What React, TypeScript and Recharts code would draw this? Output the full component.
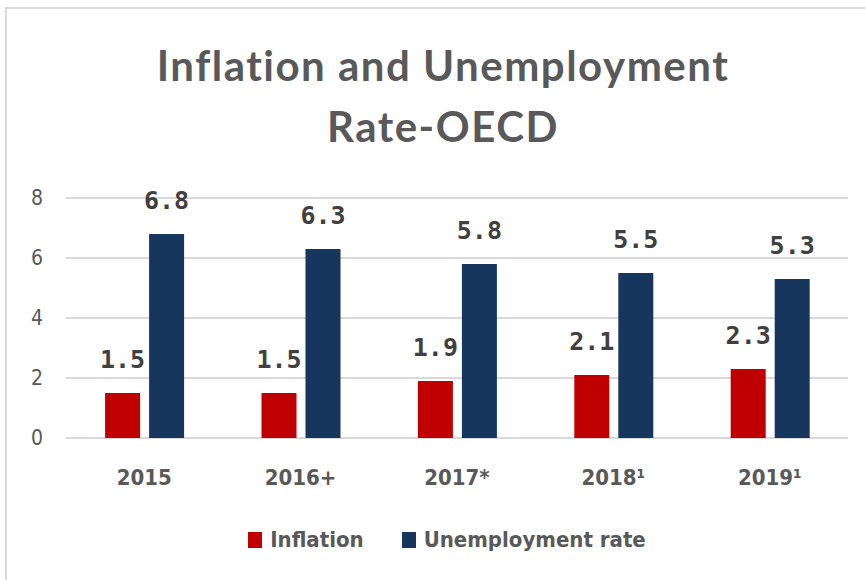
import React from 'react'
import { BarChart, Bar, XAxis, YAxis, CartesianGrid, LabelList } from 'recharts'

const years = ['2015', '2016+', '2017*', '2018¹', '2019¹']
const inflation = [1.5, 1.5, 1.9, 2.1, 2.3]
const unemployment = [6.8, 6.3, 5.8, 5.5, 5.3]
const yTicks = [0, 2, 4, 6, 8]

const seriesNames = ['Inflation', 'Unemployment rate']
const seriesColors = ['#C00000', '#17365D']

const data = years.map((year, i) => ({
  year,
  inflation: inflation[i],
  unemployment: unemployment[i]
}))

const axisFont = '"Liberation Sans Narrow", "DejaVu Sans Condensed", "Roboto", sans-serif'
const titleFont = '"Lato", "Noto Sans", sans-serif'
const labelFont = '"DejaVu Sans Mono", "Liberation Mono", monospace'

const labelStyle = { fill: '#404040', fontSize: 25, fontWeight: 700, fontFamily: labelFont }

const App = () => {
  return (
    <div
      style={{
        position: 'absolute',
        left: 0,
        top: 0,
        width: 865,
        height: 580,
        background: '#fff'
      }}
    >
      <div
        style={{
          position: 'absolute',
          left: 5,
          top: 7,
          width: 870,
          height: 580,
          border: '2px solid #d9d9d9',
          boxSizing: 'border-box'
        }}
      />
      <div
        style={{
          position: 'absolute',
          left: 0,
          top: 35,
          width: 886,
          textAlign: 'center',
          fontFamily: titleFont,
          fontWeight: 700,
          fontSize: 42,
          lineHeight: '61px',
          color: '#595959',
          letterSpacing: 1.5
        }}
      >
        Inflation and Unemployment
        <br />
        Rate-OECD
      </div>
      <div style={{ position: 'absolute', left: 0, top: 0 }}>
        <BarChart
          width={865}
          height={580}
          data={data}
          margin={{ top: 198, right: 17, bottom: 112, left: 0 }}
          barCategoryGap="25%"
          barGap={9}
        >
          <CartesianGrid vertical={false} stroke="#d9d9d9" strokeWidth={2} />
          <XAxis
            dataKey="year"
            axisLine={false}
            tickLine={false}
            height={30}
            tickMargin={25}
            tick={{ fill: '#595959', fontSize: 22, fontWeight: 700, fontFamily: axisFont }}
          />
          <YAxis
            domain={[0, 8]}
            ticks={yTicks}
            width={66}
            axisLine={false}
            tickLine={false}
            tickMargin={17}
            tick={{ fill: '#595959', fontSize: 21, fontFamily: axisFont }}
          />
          <Bar dataKey="inflation" fill={seriesColors[0]} isAnimationActive={false}>
            <LabelList dataKey="inflation" position="top" offset={25} style={labelStyle} />
          </Bar>
          <Bar dataKey="unemployment" fill={seriesColors[1]} isAnimationActive={false}>
            <LabelList dataKey="unemployment" position="top" offset={25} style={labelStyle} />
          </Bar>
        </BarChart>
      </div>
      <div
        style={{
          position: 'absolute',
          left: 0,
          top: 527,
          width: 894,
          display: 'flex',
          justifyContent: 'center',
          alignItems: 'center',
          fontFamily: axisFont,
          fontWeight: 700,
          fontSize: 22,
          color: '#595959'
        }}
      >
        {seriesNames.map((name, i) => (
          <div key={name} style={{ display: 'flex', alignItems: 'center', marginRight: i === 0 ? 38 : 0 }}>
            <span
              style={{ width: 14, height: 16, background: seriesColors[i], display: 'inline-block', marginRight: 8 }}
            />
            <span>{name}</span>
          </div>
        ))}
      </div>
    </div>
  )
}

export default App
